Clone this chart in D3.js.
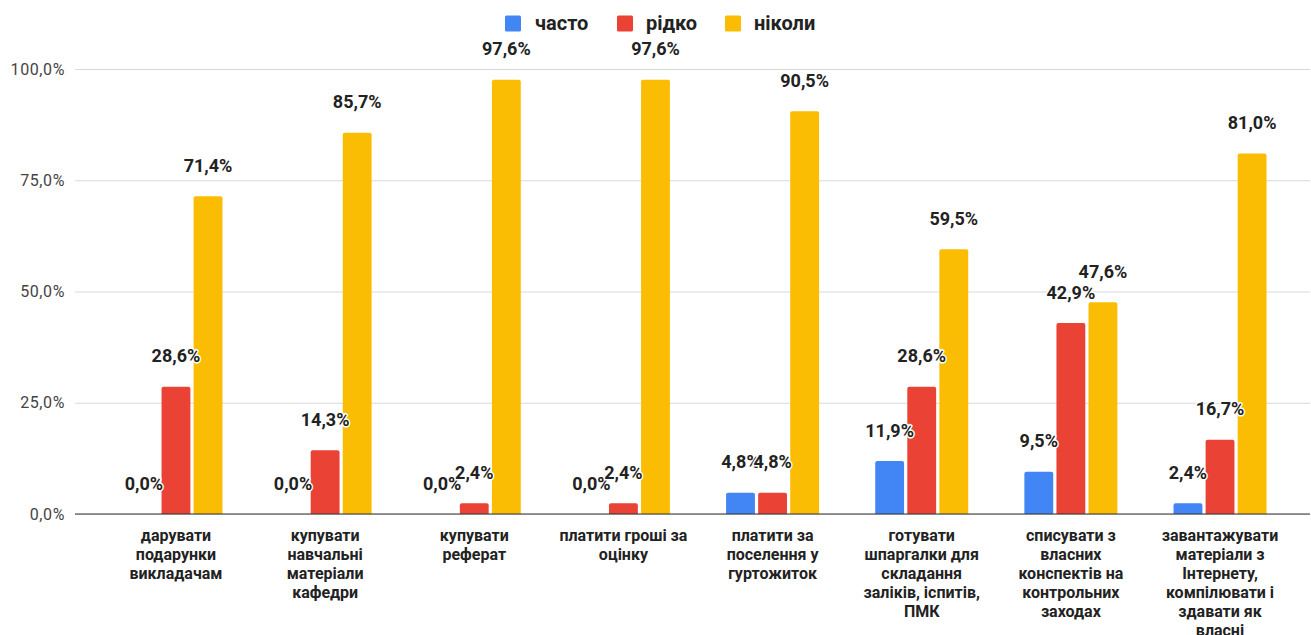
<!DOCTYPE html>
<html>
<head>
<meta charset="utf-8">
<script src="https://cdn.jsdelivr.net/npm/d3@7"></script>
<style>
  html, body { margin: 0; padding: 0; background: #fff; }
  svg { display: block; font-family: Roboto, "Noto Sans", Arial, sans-serif; }
</style>
</head>
<body>
<svg id="chart" width="1311" height="635"></svg>
<script>
const categories = [
  "дарувати\nподарунки\nвикладачам",
  "купувати\nнавчальні\nматеріали\nкафедри",
  "купувати\nреферат",
  "платити гроші за\nоцінку",
  "платити за\nпоселення у\nгуртожиток",
  "готувати\nшпаргалки для\nскладання\nзаліків, іспитів,\nПМК",
  "списувати з\nвласних\nконспектів на\nконтрольних\nзаходах",
  "завантажувати\nматеріали з\nІнтернету,\nкомпілювати і\nздавати як\nвласні"
];
const seriesNames = ["часто", "рідко", "ніколи"];
const chasto = [0, 0, 0, 0, 4.8, 11.9, 9.5, 2.4];
const ridko = [28.6, 14.3, 2.4, 2.4, 4.8, 28.6, 42.9, 16.7];
const nikoly = [71.4, 85.7, 97.6, 97.6, 90.5, 59.5, 47.6, 81.0];
const yTicks = [0, 25, 50, 75, 100];
const colors = ["#4285f4", "#ea4335", "#fbbc04"];

const seriesValues = [chasto, ridko, nikoly];
const svg = d3.select("#chart");

const plotLeft = 75, plotRight = 1310;
const y = d3.scaleLinear().domain([0, 100]).range([514, 69]);
const x0 = d3.scaleBand().domain(d3.range(categories.length)).range([101.4, 1294.6]);
const groupW = 93;
const x1 = d3.scaleBand().domain(seriesNames)
  .range([x0.bandwidth() / 2 - groupW / 2, x0.bandwidth() / 2 + groupW / 2])
  .paddingInner(0.1);

const fmt = v => v.toFixed(1).replace(".", ",") + "%";

// gridlines + y labels
const yAxis = d3.axisLeft(y).tickValues(yTicks).tickFormat(fmt)
  .tickSize(-(plotRight - plotLeft)).tickPadding(10);
const gy = svg.append("g").attr("transform", `translate(${plotLeft},0)`).call(yAxis);
gy.select(".domain").remove();
gy.selectAll(".tick line").attr("stroke", "#d9d9d9").attr("stroke-width", 1);
gy.selectAll(".tick text").attr("fill", "#444").style("font-size", "16px")
  .style("letter-spacing", "0.6px")
  .style("font-family", "Roboto, Arial, sans-serif");

// bars
const groups = svg.append("g").selectAll("g")
  .data(categories).join("g")
  .attr("transform", (d, i) => `translate(${x0(i)},0)`);

seriesNames.forEach((s, si) => {
  groups.append("path")
    .attr("fill", colors[si])
    .attr("d", (d, i) => {
      const v = seriesValues[si][i];
      if (v <= 0) return null;
      const x = x1(s), w = x1.bandwidth(), top = y(v), bot = y(0);
      const r = Math.min(2, (bot - top));
      return `M${x},${bot}V${top + r}Q${x},${top} ${x + r},${top}H${x + w - r}Q${x + w},${top} ${x + w},${top + r}V${bot}Z`;
    });
});

// baseline
svg.append("line")
  .attr("x1", plotLeft).attr("x2", plotRight)
  .attr("y1", y(0)).attr("y2", y(0))
  .attr("stroke", "#333").attr("stroke-width", 1.2);

// data labels
seriesNames.forEach((s, si) => {
  groups.append("text")
    .attr("x", x1(s) + x1.bandwidth() / 2)
    .attr("y", (d, i) => y(seriesValues[si][i]) - 31)
    .attr("text-anchor", "middle")
    .attr("dominant-baseline", "central")
    .style("font-size", "18px").style("font-weight", "bold")
    .attr("fill", "#222")
    .attr("stroke", "#fff").attr("stroke-width", 3).attr("stroke-linejoin", "round")
    .style("paint-order", "stroke")
    .text((d, i) => fmt(seriesValues[si][i]));
});

// category labels
groups.append("text")
  .attr("text-anchor", "middle")
  .style("font-size", "16px").style("font-weight", "bold")
  .attr("fill", "#222")
  .each(function(d) {
    const t = d3.select(this);
    d.split("\n").forEach((line, li) => {
      t.append("tspan").attr("x", x0.bandwidth() / 2)
        .attr("y", 535 + li * 19).attr("dominant-baseline", "central").text(line);
    });
  });

// legend
const legendItems = [
  { name: seriesNames[0], sx: 505, tx: 535 },
  { name: seriesNames[1], sx: 617, tx: 646 },
  { name: seriesNames[2], sx: 725, tx: 754 }
];
const lg = svg.append("g");
legendItems.forEach((it, i) => {
  lg.append("rect").attr("x", it.sx).attr("y", 15.5).attr("width", 16).attr("height", 16)
    .attr("rx", 1.5).attr("fill", colors[i]);
  lg.append("text").attr("x", it.tx).attr("y", 23).attr("dominant-baseline", "central")
    .style("font-size", "20px").style("font-weight", "bold").attr("fill", "#222").text(it.name);
});
</script>
</body>
</html>
